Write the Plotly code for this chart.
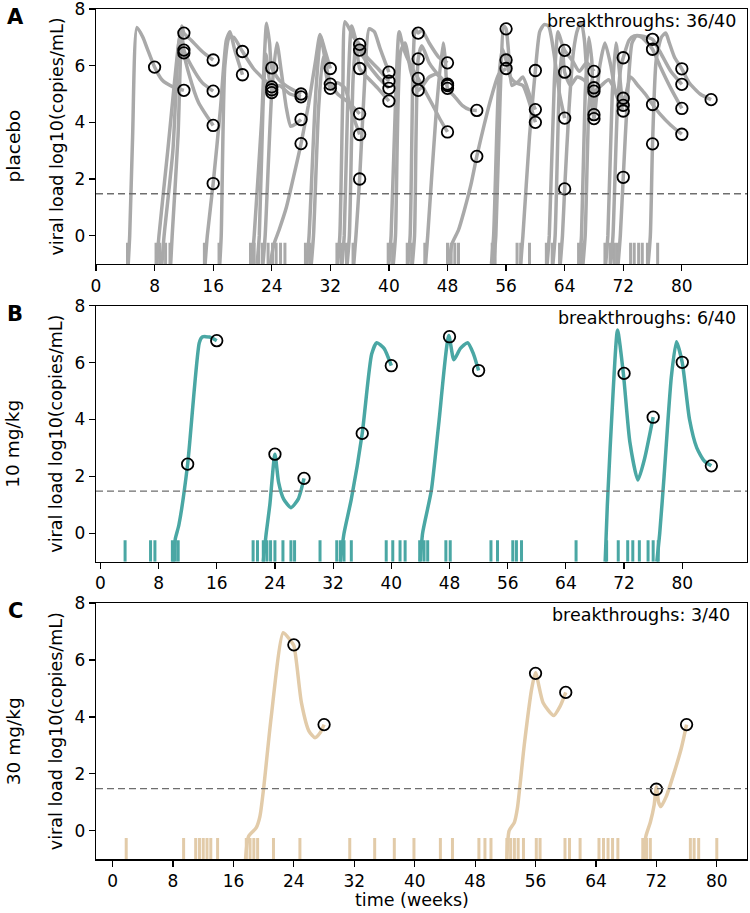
import plotly.graph_objects as go

# ---------------- data ----------------
week_ticks = [0, 8, 16, 24, 32, 40, 48, 56, 64, 72, 80]
load_ticks = [0, 2, 4, 6, 8]
detection_limit = 1.48

group_names = ["placebo", "10 mg/kg", "30 mg/kg"]
panel_letters = ["A", "B", "C"]
breakthrough_text = ["breakthroughs: 36/40", "breakthroughs: 6/40", "breakthroughs: 3/40"]

# placebo: knot times / values of each infected animal's viral-load curve
placebo_t = [
    [4.4, 4.6, 5.0, 5.6, 6.4, 7.0, 8.0, 9.0, 10.5, 12.0],
    [8.3, 8.6, 9.8, 11.2, 11.7, 12.0, 13.0, 14.5, 16.0],
    [9.0, 9.3, 10.5, 11.3, 11.6, 12.0, 13.0, 14.5, 16.0],
    [10.2, 10.4, 11.2, 11.7, 12.0, 12.7, 14.0, 16.0],
    [14.9, 15.2, 16.0, 17.0, 17.8, 18.3, 18.9, 20.0],
    [16.9, 17.1, 17.6, 18.2, 18.8, 20.0, 21.5, 23.0, 24.0],
    [21.3, 21.6, 22.6, 23.3, 23.7, 24.0, 25.0, 26.5, 28.0],
    [22.8, 23.1, 24.0, 24.7, 25.3, 26.0, 26.6, 27.3, 28.0],
    [22.0, 22.3, 22.8, 23.2, 24.0, 25.0, 26.5, 28.0],
    [23.8, 24.3, 25.0, 26.0, 27.0, 28.0, 29.0, 30.0, 30.6, 31.2, 32.0],
    [28.8, 29.1, 30.0, 30.7, 31.3, 32.0, 33.0, 34.5, 36.0],
    [29.4, 29.7, 30.4, 31.0, 31.5, 32.0, 33.0, 34.0, 35.0, 36.0],
    [33.0, 33.3, 33.7, 34.0, 34.6, 35.2, 36.0, 37.0, 38.5, 40.0],
    [33.6, 33.9, 34.4, 34.9, 35.5, 36.0, 37.0, 38.5, 40.0],
    [34.3, 34.6, 35.1, 35.5, 36.0, 37.0, 38.5, 40.0],
    [35.2, 35.5, 36.0, 36.7, 37.3, 38.0, 38.8, 40.0],
    [40.0, 40.3, 41.0, 41.4, 42.0, 43.0, 44.0, 46.0, 47.0, 48.0],
    [40.6, 40.9, 41.6, 42.2, 43.0, 44.0, 45.5, 46.5, 48.0],
    [42.6, 42.9, 43.3, 43.6, 44.0, 44.5, 45.5, 46.8, 48.0],
    [43.2, 43.5, 44.0, 44.5, 45.5, 47.0, 48.0],
    [45.0, 45.3, 46.5, 47.4, 47.7, 48.0, 49.0, 50.0, 51.0, 52.0],
    [48.2, 48.6, 49.5, 50.3, 51.2, 52.0, 53.0, 54.0, 55.0, 56.0],
    [54.3, 54.6, 55.2, 55.7, 56.0, 56.3, 56.8, 57.7, 58.3, 59.3, 60.0],
    [54.0, 54.3, 55.0, 55.5, 56.0, 56.6, 57.3, 58.3, 59.3, 60.0],
    [58.0, 58.3, 59.2, 59.7, 60.0, 60.6, 61.2, 61.8, 62.5, 63.3, 64.0],
    [61.6, 61.9, 62.6, 63.1, 63.6, 64.0, 65.0, 66.0, 67.0, 68.0],
    [62.4, 62.7, 63.3, 63.7, 64.0, 64.8, 65.7, 66.6, 67.3, 68.0],
    [63.4, 63.7, 64.0, 64.6, 65.2, 65.8, 66.3, 66.7, 67.2, 68.0],
    [66.0, 66.3, 66.8, 67.3, 67.7, 68.0, 69.0, 70.0, 71.0, 72.0],
    [66.5, 66.8, 67.3, 67.7, 68.0, 68.8, 69.5, 70.3, 71.0, 72.0],
    [70.3, 70.6, 71.2, 71.7, 72.0, 72.8, 73.5, 74.5, 75.3, 76.0, 77.0, 78.5, 80.0],
    [69.6, 69.9, 70.5, 71.0, 71.4, 72.0, 73.0, 74.0, 75.0, 76.0, 77.0, 78.5, 80.0],
    [71.3, 71.6, 72.0, 72.6, 73.2, 73.8, 74.5, 75.3, 76.0, 77.0, 78.5, 80.0],
    [75.4, 75.7, 76.0, 76.5, 77.2, 77.8, 78.3, 79.0, 80.0, 81.0, 82.5, 84.0],
]
placebo_v = [
    [-1, 0, 3.5, 7.35, 7.0, 6.6, 5.95, 5.5, 5.25, 5.13],
    [-1, 0, 3.0, 6.6, 7.4, 7.15, 6.9, 6.5, 6.2],
    [-1, 0, 3.0, 6.8, 7.1, 6.55, 6.0, 5.4, 5.1],
    [-1, 0, 3.5, 7.2, 6.45, 5.7, 4.7, 3.89],
    [-1, 0, 1.84, 4.5, 6.9, 7.2, 6.6, 5.68],
    [-1, 0, 6.0, 7.0, 7.0, 6.5, 5.9, 5.5, 5.25],
    [-1, 0, 4.0, 7.5, 6.8, 5.92, 5.5, 5.2, 5.0],
    [-1, 0, 5.05, 6.8, 5.8, 4.5, 3.86, 3.95, 4.1],
    [-1, 0, 4.5, 6.4, 5.15, 5.3, 5.0, 4.9],
    [-1, -0.3, 0.2, 1.0, 2.1, 3.25, 4.6, 6.2, 7.1, 6.6, 5.9],
    [-1, 0, 5.0, 7.0, 6.2, 5.35, 5.0, 4.7, 4.3],
    [-1, 0, 4.5, 6.3, 5.6, 5.2, 5.4, 5.2, 4.3, 3.57],
    [-1, 0, 5.0, 7.55, 7.3, 7.0, 6.75, 6.3, 5.9, 5.45],
    [-1, 0, 5.0, 7.4, 6.9, 6.55, 6.1, 5.6, 5.2],
    [-1, 0, 5.5, 6.8, 5.9, 5.6, 5.2, 4.75],
    [-1, 0, 2.0, 5.5, 7.3, 7.2, 6.6, 5.77],
    [-1, 0, 5.5, 7.2, 6.6, 6.0, 5.55, 4.6, 4.1, 3.66],
    [-1, 0, 6.5, 6.8, 5.8, 5.13, 5.6, 5.7, 5.3],
    [-1, 0, 6.0, 7.3, 7.15, 7.25, 6.8, 6.3, 6.1],
    [-1, 0, 6.24, 6.7, 6.1, 5.6, 5.35],
    [-1, 0, 4.5, 6.8, 6.2, 5.2, 4.9, 4.6, 4.45, 4.42],
    [-1, -0.3, 0.2, 0.9, 1.8, 2.8, 3.9, 4.9, 5.7, 5.9],
    [-1, 0, 5.0, 7.4, 7.3, 6.6, 5.3, 5.45, 5.6, 4.9, 4.45],
    [-1, 0, 5.5, 6.6, 6.2, 5.6, 5.4, 5.3, 4.6, 4.0],
    [-1, 0, 3.5, 5.0, 5.83, 7.2, 7.45, 7.4, 6.5, 5.0, 4.15],
    [-1, 0, 5.5, 7.2, 6.8, 6.54, 6.2, 5.8, 6.1, 5.8],
    [-1, 0, 5.5, 6.6, 5.77, 5.3, 5.6, 5.5, 5.3, 5.22],
    [-1, 0, 1.65, 4.5, 6.5, 7.3, 7.5, 6.9, 5.2, 4.27],
    [-1, 0, 5.0, 7.0, 6.2, 5.1, 5.3, 5.5, 5.1, 4.85],
    [-1, 0, 4.5, 5.5, 4.13, 6.0, 6.8, 6.0, 5.0, 4.4],
    [-1, 0, 4.5, 6.0, 6.28, 6.9, 7.05, 7.05, 7.0, 6.93, 6.5, 5.8, 5.34],
    [-1, 0, 5.0, 6.8, 6.0, 4.6, 5.6, 5.3, 5.0, 4.63, 4.3, 3.9, 3.58],
    [-1, 0, 2.06, 5.0, 6.8, 7.05, 7.0, 6.8, 6.58, 6.0, 5.2, 4.49],
    [-1, 0, 3.24, 6.2, 7.0, 7.15, 6.8, 6.3, 5.89, 5.4, 5.0, 4.8],
]
placebo_obs_t = [8, 12, 12, 12, 12, 16, 16, 16, 16, 20, 20, 24, 24, 24, 24,
                 28, 28, 28, 28, 32, 32, 32, 36, 36, 36, 36, 36, 36, 40, 40, 40, 40,
                 44, 44, 44, 44, 48, 48, 48, 48, 48, 52, 52, 56, 56, 56, 60, 60, 60,
                 64, 64, 64, 64, 68, 68, 68, 68, 68, 72, 72, 72, 72, 72,
                 76, 76, 76, 76, 80, 80, 80, 80, 84]
placebo_obs_v = [5.95, 7.15, 6.55, 6.45, 5.13, 6.2, 5.1, 3.89, 1.84, 6.5, 5.68, 5.92, 5.25, 5.15, 5.05,
                 5.0, 4.9, 4.1, 3.25, 5.9, 5.35, 5.2, 6.75, 6.55, 5.9, 4.3, 3.57, 2.0, 5.77, 5.45, 5.2, 4.75,
                 7.15, 6.24, 5.55, 5.13, 6.1, 5.35, 5.3, 5.2, 3.66, 4.42, 2.8, 7.3, 6.2, 5.9, 5.83, 4.45, 4.0,
                 6.54, 5.77, 4.15, 1.65, 5.8, 5.22, 5.1, 4.27, 4.13, 6.28, 4.85, 4.6, 4.4, 2.06,
                 6.93, 6.58, 4.63, 3.24, 5.89, 5.34, 4.49, 3.58, 4.8]
placebo_exposures = [4.3, 8.2, 8.7, 9.5, 10.1, 14.8, 16.8, 21.1, 21.6, 22.2, 22.7, 23.5, 24.1,
                     24.6, 25.2, 25.8, 28.6, 29.2, 32.9, 33.5, 34.2, 35.1, 39.9, 40.5, 42.5,
                     43.1, 44.9, 48.0, 48.5, 49.0, 49.5, 54.1, 54.5, 57.5, 58.0, 59.2, 61.5,
                     62.3, 63.3, 65.9, 66.4, 69.5, 70.2, 70.8, 71.2, 73.0, 73.5, 74.1, 74.6,
                     75.3, 76.7]

# 10 mg/kg
dose10_t = [
    [10.0, 10.3, 10.8, 12.0, 13.6, 14.0, 15.0, 16.0],
    [22.4, 22.8, 23.3, 24.0, 24.5, 25.2, 26.2, 27.2, 28.0],
    [33.0, 33.5, 34.5, 36.0, 37.3, 38.0, 39.0, 40.0],
    [44.0, 44.3, 45.5, 46.5, 47.9, 48.6, 49.5, 50.5, 51.3, 52.0],
    [69.4, 69.7, 70.5, 71.1, 71.9, 72.8, 73.9, 74.8, 76.0],
    [76.5, 76.9, 77.5, 78.5, 79.2, 80.0, 81.0, 82.0, 83.0, 84.0],
]
dose10_v = [
    [-1, -0.2, 0.3, 2.43, 6.7, 6.9, 6.9, 6.77],
    [-1, 0.0, 1.0, 2.78, 1.8, 1.2, 0.9, 1.2, 1.93],
    [-1, 0.0, 1.2, 3.51, 6.3, 6.7, 6.5, 5.89],
    [-1, 0.0, 1.5, 3.8, 6.95, 6.1, 6.5, 6.7, 6.3, 5.72],
    [-1, 1.0, 5.0, 7.15, 5.62, 3.2, 1.87, 2.6, 4.08],
    [-1, 0.0, 2.0, 5.5, 6.73, 6.0, 4.0, 3.0, 2.55, 2.37],
]
dose10_obs_t = [12, 16, 24, 28, 36, 40, 48, 52, 72, 76, 80, 84]
dose10_obs_v = [2.43, 6.77, 2.78, 1.93, 3.51, 5.89, 6.91, 5.72, 5.62, 4.08, 6.01, 2.37]
dose10_exposures = [3.4, 6.9, 7.5, 9.9, 10.3, 10.7, 21.0, 21.6, 22.4, 22.9, 23.4, 24.0, 25.1,
                    26.2, 26.7, 30.2, 32.5, 33.0, 33.5, 34.5, 39.3, 40.2, 41.2, 41.9, 43.9,
                    44.5, 45.0, 47.5, 48.1, 53.7, 54.6, 56.7, 57.2, 57.9, 65.4, 69.6, 71.2,
                    72.5, 73.2, 74.1, 75.3, 76.0, 76.7]

# 30 mg/kg
dose30_t = [
    [17.6, 18.0, 19.0, 19.5, 20.0, 21.0, 22.6, 23.5, 24.0, 25.0, 26.0, 26.8, 27.5, 28.0],
    [52.2, 52.5, 53.2, 53.6, 54.5, 55.5, 56.0, 57.0, 58.4, 59.3, 60.0],
    [70.3, 70.6, 71.2, 71.7, 72.0, 72.3, 72.6, 73.3, 74.3, 75.3, 76.0],
]
dose30_v = [
    [-1, -0.2, 0.1, 0.5, 1.5, 4.0, 6.96, 6.7, 6.5, 4.5, 3.5, 3.27, 3.45, 3.73],
    [-1, 0.0, 0.3, 0.8, 3.0, 5.0, 5.55, 4.5, 4.05, 4.4, 4.86],
    [-1, -0.2, 0.3, 0.9, 1.55, 1.0, 0.85, 1.2, 2.0, 2.9, 3.73],
]
dose30_obs_t = [24, 28, 56, 60, 72, 76]
dose30_obs_v = [6.53, 3.73, 5.53, 4.86, 1.46, 3.73]
dose30_exposures = [1.8, 9.4, 11.0, 11.5, 12.0, 12.5, 13.0, 13.9, 17.7, 18.2, 18.7, 19.2, 21.3,
                    24.8, 31.4, 34.7, 37.3, 39.9, 43.4, 45.0, 48.5, 49.3, 50.1, 52.2, 52.7,
                    53.2, 53.7, 54.4, 56.1, 56.6, 59.9, 60.5, 61.9, 64.4, 65.0, 65.6, 66.2,
                    66.9, 70.2, 70.7, 71.2, 76.5, 77.0, 77.6, 80.0]

# ---------------- styling ----------------
COLORS = ["#a9a9a9", "#4aa7a4", "#e2cba9"]
FONT = "DejaVu Sans"
RUG_LO, RUG_HI = -1.0, -0.25
W, H = 750, 913
X0, X1 = 96, 747                       # plot-area pixel edges
PANEL_Y = [(9, 264), (305.7, 561.7), (603, 859.3)]   # top/bottom pixels
XRANGES = [[0.0, 88.9], [-0.6, 88.9], [-2.2, 84.0]]
TXT = 17.5

groups = [
    (placebo_t, placebo_v, placebo_obs_t, placebo_obs_v, placebo_exposures),
    (dose10_t, dose10_v, dose10_obs_t, dose10_obs_v, dose10_exposures),
    (dose30_t, dose30_v, dose30_obs_t, dose30_obs_v, dose30_exposures),
]

fig = go.Figure()
layout = dict()
annotations = []
shapes = []

for i, (ct, cv, ot, ov, ex) in enumerate(groups):
    n = "" if i == 0 else str(i + 1)
    xa, ya = "x" + n, "y" + n
    color = COLORS[i]
    # rug of exposures
    rx, ry = [], []
    for e in ex:
        rx += [e, e, None]
        ry += [RUG_LO, RUG_HI, None]
    fig.add_trace(go.Scatter(x=rx, y=ry, mode="lines", line=dict(color=color, width=3),
                             xaxis=xa, yaxis=ya, showlegend=False, hoverinfo="skip"))
    # curves
    for t, v in zip(ct, cv):
        fig.add_trace(go.Scatter(x=t, y=v, mode="lines",
                                 line=dict(color=color, width=3.5, shape="spline", smoothing=0.6),
                                 xaxis=xa, yaxis=ya, showlegend=False, hoverinfo="skip"))
    # observations
    fig.add_trace(go.Scatter(x=ot, y=ov, mode="markers",
                             marker=dict(symbol="circle-open", size=11.5, color="black",
                                         line=dict(width=1.8, color="black")),
                             xaxis=xa, yaxis=ya, showlegend=False, hoverinfo="skip"))
    top, bot = PANEL_Y[i]
    ydom = [1 - bot / H, 1 - top / H]
    xdom = [X0 / W, X1 / W]
    axcommon = dict(showline=True, linecolor="black", linewidth=1.2, mirror=True,
                    ticks="outside", ticklen=6, tickwidth=1.2, tickcolor="black",
                    showgrid=False, zeroline=False, automargin=False,
                    ticklabeloverflow="allow",
                    tickfont=dict(family=FONT, size=17, color="black"))
    layout["xaxis" + n] = dict(domain=xdom, range=XRANGES[i], tickvals=week_ticks,
                               anchor=ya, **axcommon)
    layout["yaxis" + n] = dict(domain=ydom, range=[-1, 8], tickvals=load_ticks,
                               anchor=xa, **axcommon)
    # detection limit
    shapes.append(dict(type="line", xref=xa + " domain", yref=ya, x0=0, x1=1,
                       y0=detection_limit, y1=detection_limit,
                       line=dict(color="#6e6e6e", width=1.3, dash="7px,4px")))
    # texts
    annotations.append(dict(text="<b>" + panel_letters[i] + "</b>", xref="paper", yref="paper",
                            x=15 / W, y=1 - (top + 8) / H, xanchor="center", yanchor="middle",
                            showarrow=False, font=dict(family=FONT, size=21, color="black")))
    annotations.append(dict(text=group_names[i], xref="paper", yref="paper",
                            x=13 / W, y=1 - ((top + bot) / 2 + 10) / H, textangle=-90,
                            xanchor="center", yanchor="middle", showarrow=False,
                            font=dict(family=FONT, size=18.5, color="black")))
    annotations.append(dict(text="viral load log10(copies/mL)", xref="paper", yref="paper",
                            x=56 / W, y=1 - ((top + bot) / 2) / H, textangle=-90,
                            xanchor="center", yanchor="middle", showarrow=False,
                            font=dict(family=FONT, size=TXT, color="black")))
    annotations.append(dict(text=breakthrough_text[i], xref="paper", yref="paper",
                            x=(738 if i < 2 else 732) / W, y=1 - (top + 12) / H,
                            xanchor="right", yanchor="middle", showarrow=False,
                            font=dict(family=FONT, size=TXT, color="black")))

annotations.append(dict(text="time (weeks)", xref="paper", yref="paper",
                        x=412 / W, y=1 - 899.5 / H, xanchor="center", yanchor="middle",
                        showarrow=False, font=dict(family=FONT, size=TXT, color="black")))

fig.update_layout(width=W, height=H, margin=dict(l=0, r=0, t=0, b=0, autoexpand=False),
                  plot_bgcolor="white", paper_bgcolor="white",
                  annotations=annotations, shapes=shapes, **layout)
fig.write_html("out.html", config={"displayModeBar": False, "staticPlot": True},
               post_script="document.body.style.margin='0';document.body.style.overflow='hidden';")
